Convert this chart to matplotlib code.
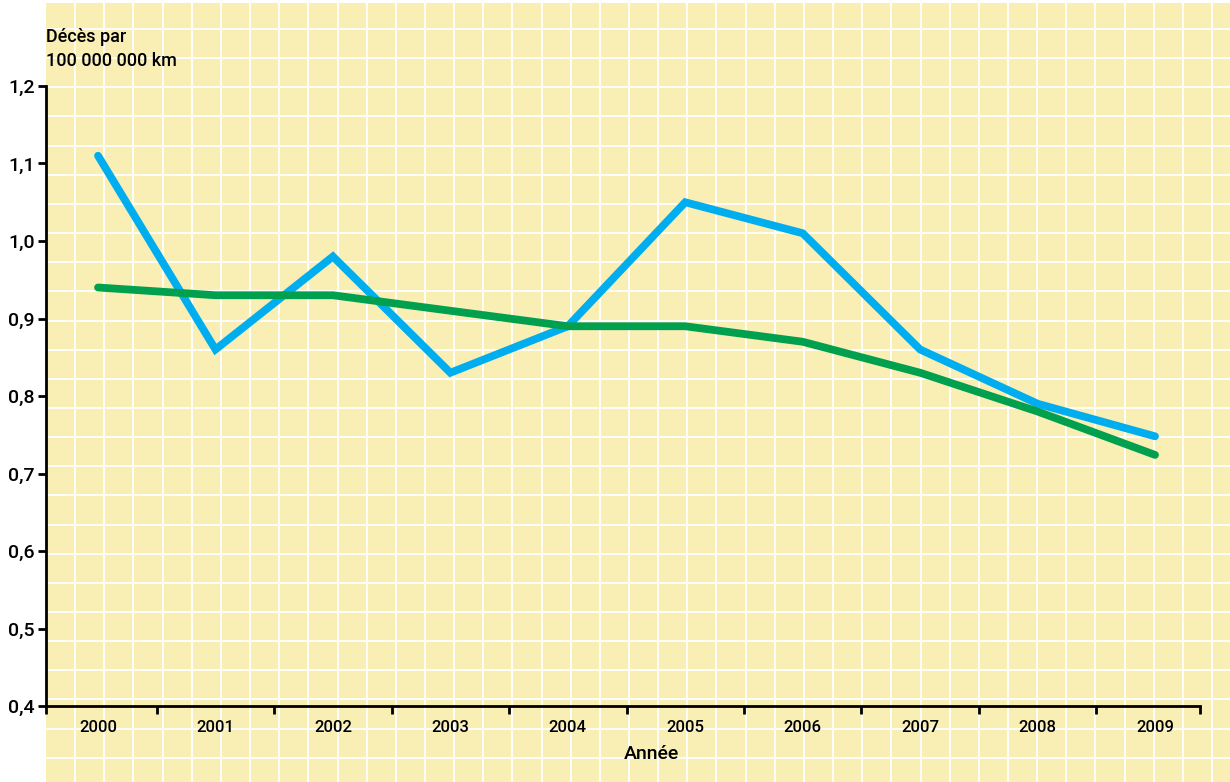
import numpy as np
import matplotlib
matplotlib.use("Agg")
import matplotlib.pyplot as plt
from matplotlib.lines import Line2D
from matplotlib.patches import Rectangle

years = ["2000", "2001", "2002", "2003", "2004", "2005", "2006", "2007", "2008", "2009"]
blue_values = [1.11, 0.86, 0.98, 0.83, 0.89, 1.05, 1.01, 0.86, 0.79, 0.748]
green_values = [0.94, 0.93, 0.93, 0.91, 0.89, 0.89, 0.87, 0.83, 0.78, 0.724]
y_ticks = [0.4, 0.5, 0.6, 0.7, 0.8, 0.9, 1.0, 1.1, 1.2]
y_ticklabels = ["0,4", "0,5", "0,6", "0,7", "0,8", "0,9", "1,0", "1,1", "1,2"]
y_title = ["Décès par", "100 000 000 km"]
x_title = "Année"

FONT = ["Roboto", "DejaVu Sans"]
plt.rcParams["font.family"] = FONT
plt.rcParams["font.weight"] = 500

W, H = 1230, 782
fig = plt.figure(figsize=(W / 100, H / 100), dpi=100, facecolor="white")

YELLOW = "#F9EEB4"
BLUE = "#00AEEF"
GREEN = "#00A04F"

def fx(px):
    return px / W

def fy(py):
    return 1 - py / H

bg_left, bg_top = 46, 3
fig.patches.append(Rectangle((fx(bg_left), 0), 1 - fx(bg_left), fy(bg_top),
                             transform=fig.transFigure, facecolor=YELLOW,
                             edgecolor="none", zorder=0))
step = 29.15
for gx in np.arange(bg_left + step, W, step):
    fig.lines.append(Line2D([fx(gx), fx(gx)], [0, fy(bg_top)], transform=fig.transFigure,
                            color="white", lw=1.3, zorder=1))
for gy in np.arange(29, H, step):
    fig.lines.append(Line2D([fx(bg_left), 1], [fy(gy), fy(gy)], transform=fig.transFigure,
                            color="white", lw=1.3, zorder=1))

ax_l, ax_r, ax_t, ax_b = 46, 1200, 86, 706
ax = fig.add_axes([fx(ax_l), fy(ax_b), fx(ax_r) - fx(ax_l), fy(ax_t) - fy(ax_b)])
ax.patch.set_alpha(0)
ax.set_zorder(2)

x = np.arange(len(years))
ax.plot(x, blue_values, color=BLUE, lw=5.6, solid_capstyle="round", solid_joinstyle="miter", zorder=3)
ax.plot(x, green_values, color=GREEN, lw=5.6, solid_capstyle="round", solid_joinstyle="miter", zorder=3)

xl, xr = -0.443, 9.383
ax.set_xlim(xl, xr)
ax.set_ylim(0.4, 1.2)

for s in ["top", "right"]:
    ax.spines[s].set_visible(False)
for s in ["left", "bottom"]:
    ax.spines[s].set_linewidth(2.0)
    ax.spines[s].set_color("black")

ax.set_yticks(y_ticks)
ax.set_yticklabels(y_ticklabels, fontsize=14, fontweight=500)
ax.tick_params(axis="y", length=6, width=2.0, pad=2, colors="black")

bounds = [xl] + [i + 0.5 for i in range(len(years) - 1)] + [xr]
ax.set_xticks(bounds)
ax.set_xticklabels([""] * len(bounds))
ax.tick_params(axis="x", which="major", length=6, width=2.0, direction="out")
ax.set_xticks(x, minor=True)
ax.set_xticklabels(years, minor=True, fontsize=12, fontweight=500)
ax.tick_params(axis="x", which="minor", length=0, pad=10)

fig.text(fx(46), fy(42), y_title[0], fontsize=13, fontweight=500, ha="left", va="baseline")
fig.text(fx(46), fy(66), y_title[1], fontsize=13, fontweight=500, ha="left", va="baseline")
fig.text(fx(651), fy(759), x_title, fontsize=14, fontweight=500, ha="center", va="baseline")

fig.savefig("out.png", dpi=100, facecolor="white")
